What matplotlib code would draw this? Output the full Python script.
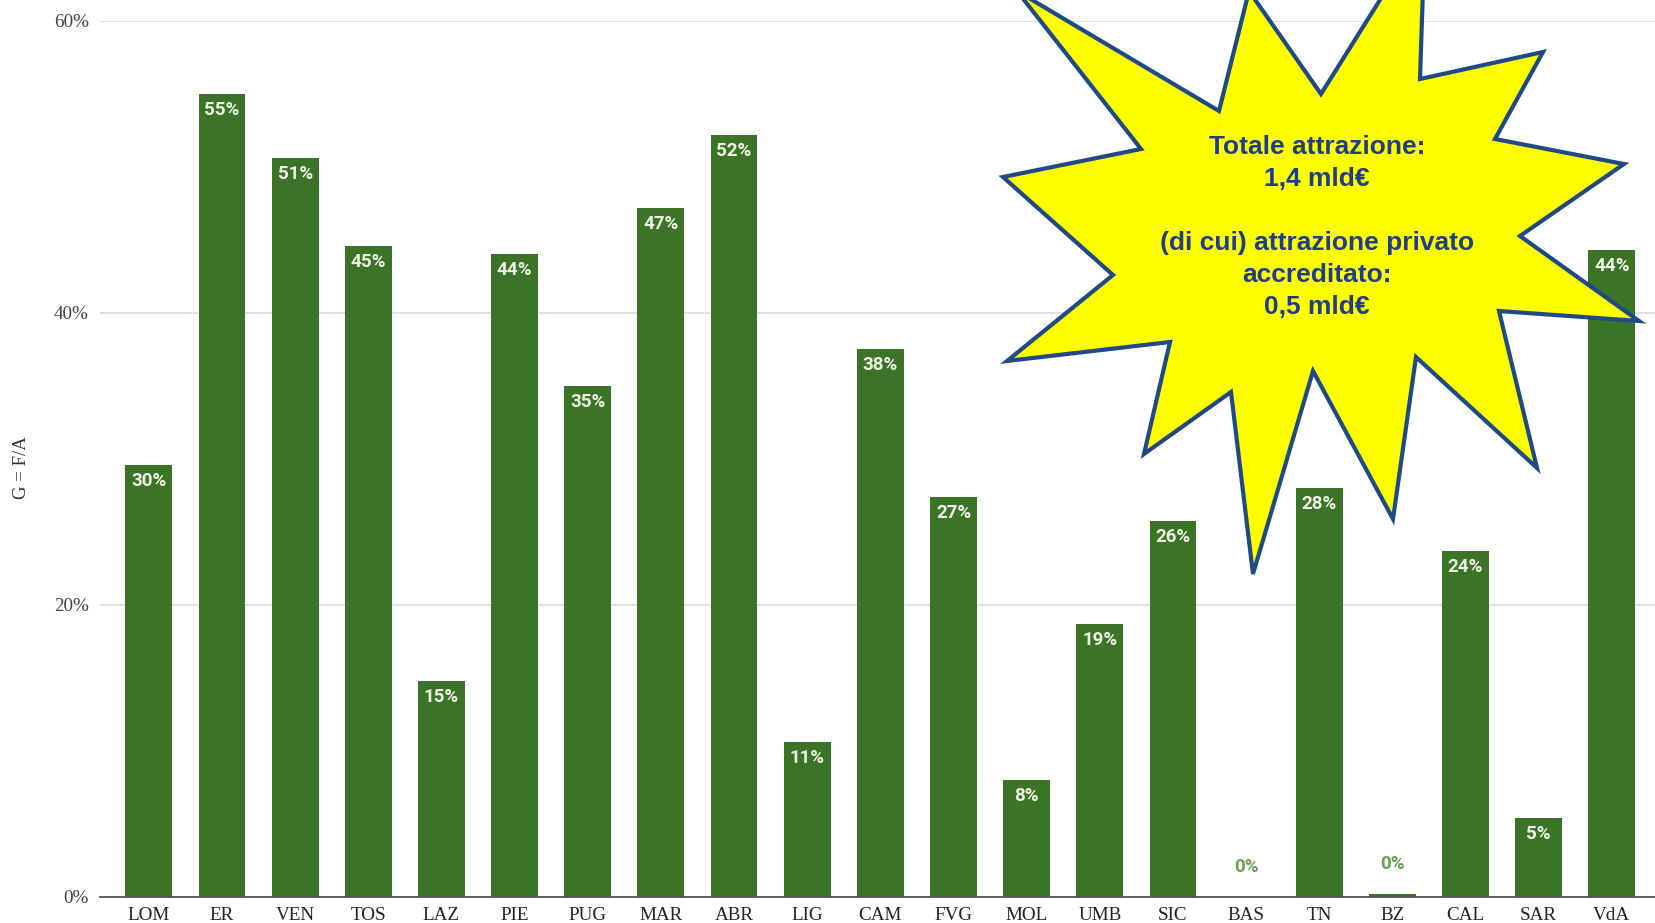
import matplotlib
matplotlib.use("Agg")
import matplotlib.pyplot as plt
from matplotlib.patches import Polygon

# regioni e quota G = F/A
regioni = ['LOM', 'ER', 'VEN', 'TOS', 'LAZ', 'PIE', 'PUG', 'MAR', 'ABR', 'LIG', 'CAM',
           'FVG', 'MOL', 'UMB', 'SIC', 'BAS', 'TN', 'BZ', 'CAL', 'SAR', 'VdA']
quote = [0.296, 0.550, 0.506, 0.446, 0.148, 0.440, 0.350, 0.472, 0.522, 0.106, 0.375,
         0.274, 0.080, 0.187, 0.257, 0.000, 0.280, 0.002, 0.237, 0.054, 0.443]
yticks = [0.0, 0.2, 0.4, 0.6]
testo_stella = ("Totale attrazione:\n1,4 mld€\n\n(di cui) attrazione privato\n"
                "accreditato:\n0,5 mld€")

W, H = 1655, 923
verde = '#3b7426'
fig = plt.figure(figsize=(W/100, H/100), dpi=100)
ax = fig.add_axes([100/W, 1-896.5/H, 1-100/W, (896.5-21)/H])

x = range(len(regioni))
ax.bar(x, quote, width=0.64, color=verde, zorder=2)
ax.set_xlim(-0.667, 20.59)
ax.set_ylim(0, 0.6)

for i, v in enumerate(quote):
    lab = f"{round(v*100):.0f}%"
    if v > 0.03:
        ax.annotate(lab, (i, v), xytext=(0, -11.5), textcoords='offset points',
                    ha='center', va='center', color='#eef3e6', fontsize=13.5,
                    fontweight='bold', family='Roboto', zorder=3)
    else:
        ax.annotate(lab, (i, v), xytext=(0, 21), textcoords='offset points',
                    ha='center', va='center', color='#6b9e55', fontsize=13.5,
                    fontweight='bold', family='Roboto', zorder=3)

ax.set_yticks(yticks)
ax.set_yticklabels([f"{int(t*100)}%" for t in yticks])
ax.set_xticks(list(x))
ax.set_xticklabels(regioni)
ax.tick_params(length=0)
ax.tick_params(axis='y', pad=8, labelsize=13.8, labelcolor='#444444')
ax.tick_params(axis='x', pad=7.5, labelsize=13.8, labelcolor='#222222')
for lab in ax.get_xticklabels() + ax.get_yticklabels():
    lab.set_family('Liberation Serif')
ax.grid(axis='y', color='#dedede', lw=1.3, zorder=0)
for s in ['top', 'right', 'left']:
    ax.spines[s].set_visible(False)
ax.spines['bottom'].set_color('#555555')
ax.spines['bottom'].set_linewidth(1.3)
ax.spines['bottom'].set_zorder(4)

fig.text(21/W, 1-468/H, 'G = F/A', rotation=90, ha='center', va='center',
         family='Liberation Serif', fontsize=13.5, color='#333333')

# stella (in pixel della figura)
stella = [(1017, -9), (1219, 111), (1249, -9), (1321, 94), (1425, -72), (1420, 79),
          (1543, 52), (1495, 139), (1624, 164), (1520, 236), (1639, 321), (1499, 311),
          (1537, 468), (1416, 357), (1393, 519), (1313, 371), (1253, 574), (1231, 392),
          (1144, 454), (1170, 342), (1007, 361), (1113, 275), (1003, 177), (1141, 149)]
pts = [(px/W, 1-py/H) for px, py in stella]
fig.patches.append(Polygon(pts, closed=True, facecolor='#ffff00', edgecolor='#1f4a86',
                           lw=3, joinstyle='miter', transform=fig.transFigure, zorder=5))
fig.text(1317/W, 1-227/H, testo_stella, ha='center', va='center', multialignment='center',
         family='Liberation Sans', fontweight='bold', fontsize=19, color='#1f3d8c',
         linespacing=1.42, zorder=6)

fig.savefig('out.png', dpi=100)
